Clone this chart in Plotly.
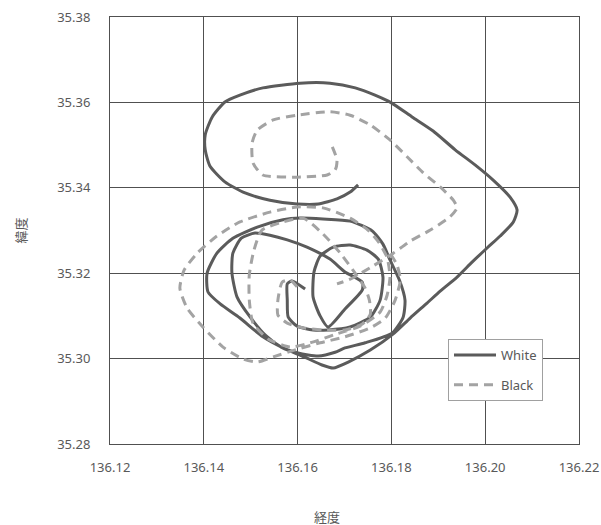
import plotly.graph_objects as go

# White track (longitude, latitude)
white_lon = [136.1616,136.1588,136.1578,136.1578,136.1580,136.1599,136.1633,136.1665,
             136.1712,136.1755,136.1776,136.1782,136.1772,136.1748,136.1712,136.1676,136.1648,136.1635,136.1633,136.1648,136.1665,
             136.1701,136.1738,136.1738,136.1701,136.1669,136.1620,136.1578,136.1541,136.1509,136.1480,136.1462,136.1460,136.1471,136.1499,136.1533,136.1565,136.1601,136.1644,136.1680,136.1701,136.1744,136.1802,
             136.1825,136.1829,136.1817,136.1797,136.1782,136.1759,136.1712,136.1654,136.1605,136.1569,136.1514,136.1462,136.1428,136.1407,136.1409,136.1435,136.1477,136.1526,136.1569,136.1614,136.1652,136.1676,
             136.1708,136.1755,136.1804,136.1840,136.1876,136.1904,136.1940,136.1972,136.2004,136.2032,136.2060,136.2068,136.2053,136.2017,136.1979,136.1936,136.1889,136.1844,136.1800,136.1765,136.1723,136.1669,136.1605,136.1526,136.1477,136.1445,136.1418,136.1403,136.1403,136.1413,136.1445,136.1488,136.1541,136.1599,136.1644,136.1684,136.1712,136.1729]
white_lat = [35.3163,35.3182,35.3175,35.3137,35.3097,35.3076,35.3067,35.3067,
             35.3074,35.3097,35.3137,35.3191,35.3233,35.3254,35.3266,35.3261,35.3240,35.3203,35.3144,35.3100,35.3074,
             35.3116,35.3161,35.3179,35.3203,35.3233,35.3261,35.3278,35.3289,35.3294,35.3282,35.3247,35.3200,35.3144,35.3097,35.3053,35.3027,35.3013,35.3006,35.3015,35.3025,35.3037,35.3060,
             35.3097,35.3137,35.3184,35.3231,35.3268,35.3299,35.3322,35.3327,35.3329,35.3325,35.3308,35.3282,35.3247,35.3200,35.3156,35.3128,35.3095,35.3051,35.3025,35.3004,35.2985,35.2978,
             35.2992,35.3020,35.3058,35.3095,35.3130,35.3158,35.3191,35.3226,35.3259,35.3287,35.3320,35.3348,35.3378,35.3418,35.3453,35.3489,35.3533,35.3566,35.3599,35.3617,35.3634,35.3645,35.3645,35.3634,35.3617,35.3601,35.3566,35.3524,35.3489,35.3451,35.3414,35.3388,35.3371,35.3362,35.3362,35.3374,35.3390,35.3407]

# Black track (longitude, latitude); None marks a gap in the record
black_lon = [136.1674,136.1684,136.1680,136.1663,136.1599,136.1526,136.1505,136.1503,136.1514,136.1548,136.1599,136.1669,136.1712,136.1755,136.1797,136.1834,136.1868,136.1904,136.1932,136.1940,136.1925,136.1883,136.1840,136.1804,136.1761,136.1712,136.1684,
             None,
             136.1599,136.1584,136.1567,136.1558,136.1558,136.1578,136.1612,136.1654,136.1701,136.1738,136.1755,136.1753,136.1744,136.1718,136.1691,136.1654,136.1612,136.1569,136.1524,136.1507,136.1497,136.1497,136.1505,136.1537,136.1584,136.1627,136.1684,136.1733,136.1776,136.1791,136.1797,136.1791,136.1774,136.1750,136.1712,136.1654,136.1599,136.1541,136.1477,136.1428,136.1386,136.1358,136.1349,136.1364,136.1398,136.1441,136.1484,136.1514,136.1548,136.1599,136.1648,136.1701,136.1755,136.1787,136.1808,136.1819,136.1812,136.1797]
black_lat = [35.3496,35.3465,35.3442,35.3430,35.3425,35.3430,35.3458,35.3505,35.3535,35.3559,35.3570,35.3578,35.3570,35.3547,35.3512,35.3472,35.3435,35.3402,35.3371,35.3353,35.3332,35.3301,35.3275,35.3247,35.3217,35.3186,35.3175,
             None,
             35.3168,35.3184,35.3179,35.3137,35.3102,35.3083,35.3072,35.3067,35.3067,35.3081,35.3104,35.3137,35.3165,35.3207,35.3247,35.3292,35.3329,35.3320,35.3301,35.3254,35.3196,35.3137,35.3083,35.3046,35.3027,35.3037,35.3058,35.3076,35.3109,35.3149,35.3191,35.3236,35.3271,35.3301,35.3329,35.3353,35.3355,35.3343,35.3320,35.3287,35.3247,35.3207,35.3165,35.3119,35.3074,35.3027,35.2999,35.2992,35.3004,35.3022,35.3037,35.3051,35.3072,35.3095,35.3137,35.3184,35.3219,35.3247]

x_ticks = [136.12, 136.14, 136.16, 136.18, 136.20, 136.22]
y_ticks = [35.28, 35.30, 35.32, 35.34, 35.36, 35.38]
x_title = "経度"
y_title = "緯度"

fig = go.Figure()
fig.add_trace(go.Scatter(x=white_lon, y=white_lat, mode="lines", name="White",
                         legendgroup="w",
                         line=dict(color="#5b5b5b", width=3, shape="spline", smoothing=0.6)))
fig.add_trace(go.Scatter(x=black_lon, y=black_lat, mode="lines", name="Black",
                         legendgroup="b", connectgaps=False,
                         line=dict(color="#a3a3a3", width=3, dash="9px,6px", shape="spline", smoothing=0.6)))

axis_common = dict(showgrid=True, gridcolor="#505050", gridwidth=1, zeroline=False,
                   showline=True, linecolor="#505050", linewidth=1, mirror=True,
                   automargin=False, ticklabeloverflow="allow",
                   ticks="outside", tickcolor="rgba(0,0,0,0)",
                   tickfont=dict(family="Noto Sans, Open Sans, sans-serif", size=13, color="#595959"))
fig.update_xaxes(range=[136.12, 136.22], tickvals=x_ticks,
                 ticktext=[f"{v:.2f}" for v in x_ticks], ticklen=11, **axis_common)
fig.update_yaxes(range=[35.28, 35.38], tickvals=y_ticks,
                 ticktext=[f"{v:.2f}" for v in y_ticks], ticklen=16, **axis_common)

fig.add_annotation(text=x_title, xref="paper", yref="paper", x=(327-110)/469, y=-72/427,
                   showarrow=False, xanchor="center", yanchor="middle",
                   font=dict(family="Noto Sans CJK JP", size=13, color="#595959"))
fig.add_annotation(text=y_title, xref="paper", yref="paper", x=-90/469, y=0.5, textangle=-90,
                   showarrow=False, xanchor="center", yanchor="middle",
                   font=dict(family="Noto Sans CJK JP", size=13, color="#595959"))

fig.update_layout(
    width=601, height=525,
    margin=dict(l=110, r=22, t=17, b=81, autoexpand=False),
    paper_bgcolor="white", plot_bgcolor="white",
    showlegend=True,
    legend=dict(x=(448-110)/469, y=(444-339)/427, xanchor="left", yanchor="top",
                bgcolor="white", bordercolor="#a0a0a0", borderwidth=1,
                font=dict(family="Noto Sans, Open Sans, sans-serif", size=13, color="#595959"),
                tracegroupgap=10, itemwidth=42),
)

fig.write_html("out.html", config={"displayModeBar": False},
               post_script="document.body.style.margin='0';document.body.style.overflow='hidden';")
